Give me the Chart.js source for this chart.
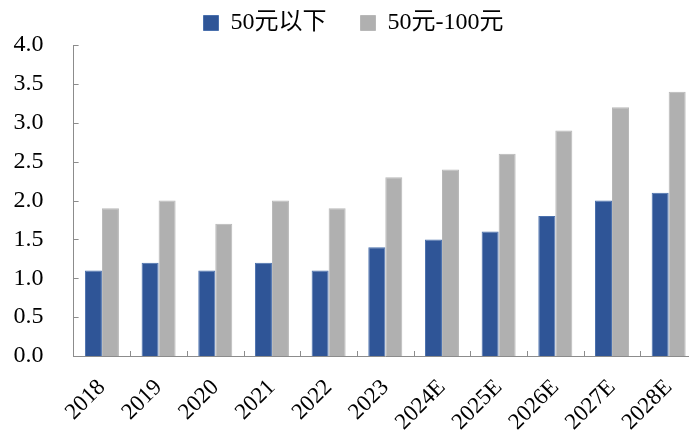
<!DOCTYPE html>
<html lang="zh">
<head>
  <meta charset="UTF-8">
  <title>价格带占比</title>
  <script src="https://cdn.jsdelivr.net/npm/chart.js@4"></script>
  <style>
    html, body { margin: 0; padding: 0; background: #fff; overflow: hidden; }
    #wrap { width: 720px; height: 439px; }
  </style>
</head>
<body>
  <div id="wrap"><canvas id="chart" width="720" height="439"></canvas></div>
  <script>
    const years = ['2018', '2019', '2020', '2021', '2022', '2023', '2024E', '2025E', '2026E', '2027E', '2028E'];
    const below50 = [1.1, 1.2, 1.1, 1.2, 1.1, 1.4, 1.5, 1.6, 1.8, 2.0, 2.1];
    const from50to100 = [1.9, 2.0, 1.7, 2.0, 1.9, 2.3, 2.4, 2.6, 2.9, 3.2, 3.4];
    const yTicks = [0, 0.5, 1.0, 1.5, 2.0, 2.5, 3.0, 3.5, 4.0];

    const font = "'Liberation Serif', 'Times New Roman', 'Noto Sans CJK SC', serif";
    const axisColor = '#8c8c8c';

    // small ticks pointing into the plot, like the original
    const innerTicks = {
      id: 'innerTicks',
      afterDraw(chart) {
        const c = chart.ctx, x = chart.scales.x, y = chart.scales.y;
        c.save();
        c.strokeStyle = axisColor;
        c.lineWidth = 1;
        c.beginPath();
        yTicks.forEach(v => {
          const py = Math.round(y.getPixelForValue(v)) + 0.5;
          c.moveTo(x.left, py);
          c.lineTo(x.left + 5, py);
        });
        for (let i = 1; i < years.length; i++) {
          const px = Math.round(x.getPixelForValue(i - 0.5)) + 0.5;
          c.moveTo(px, y.bottom);
          c.lineTo(px, y.bottom - 5);
        }
        c.stroke();
        c.restore();
      }
    };

    new Chart(document.getElementById('chart'), {
      type: 'bar',
      data: {
        labels: years,
        datasets: [
          { label: '50元以下', data: below50, backgroundColor: '#2f5597', borderColor: '#4a70ad', borderWidth: 1 },
          { label: '50元-100元', data: from50to100, backgroundColor: '#b0b0b0', borderColor: '#b8b8b8', borderWidth: 1 }
        ]
      },
      options: {
        responsive: false,
        animation: false,
        layout: { padding: { left: 10, right: 23, top: -23, bottom: 0 } },
        datasets: { bar: { barPercentage: 1, categoryPercentage: 0.6 } },
        plugins: {
          legend: {
            position: 'top',
            labels: {
              boxWidth: 15, boxHeight: 15, padding: 34,
              color: '#000',
              font: { family: font, size: 24 }
            }
          },
          tooltip: { enabled: false }
        },
        scales: {
          x: {
            grid: { display: false },
            border: { display: true, color: axisColor },
            ticks: {
              color: '#000', minRotation: 45, maxRotation: 45, padding: 10,
              font: { family: font, size: 23 }
            },
            afterFit(s) { s.height = 83; }
          },
          y: {
            min: 0, max: 4,
            grid: { display: false },
            border: { display: true, color: axisColor },
            afterBuildTicks(s) { s.ticks = yTicks.map(v => ({ value: v })); },
            ticks: {
              color: '#000', padding: 22,
              font: { family: font, size: 24 },
              callback: v => v.toFixed(1)
            },
            afterFit(s) { s.width = 63.6; }
          }
        }
      },
      plugins: [innerTicks]
    });
  </script>
</body>
</html>
